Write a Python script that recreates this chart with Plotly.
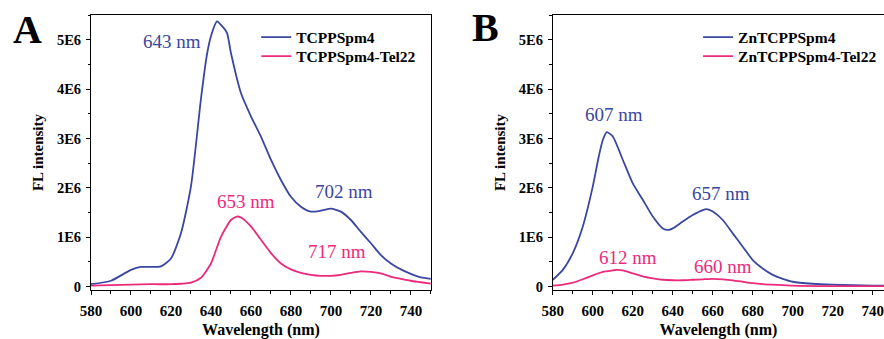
import plotly.graph_objects as go

# ---- data ----
wl_a_blue = [580, 590, 600, 605, 610, 615, 620, 625, 630, 635, 638, 640, 643, 645, 648, 650, 655, 660, 665,
             670, 675, 680, 685, 690, 695, 700, 705, 710, 715, 720, 725, 730, 735, 740, 745, 750]
fl_a_blue = [0.05, 0.12, 0.34, 0.40, 0.40, 0.41, 0.57, 1.08, 2.03, 3.80, 4.70, 5.07, 5.37, 5.30, 5.14, 4.73,
             3.92, 3.45, 3.04, 2.57, 2.16, 1.82, 1.62, 1.52, 1.54, 1.58, 1.52, 1.35, 1.11, 0.88, 0.64, 0.47,
             0.35, 0.26, 0.19, 0.16]
wl_a_pink = [580, 590, 600, 610, 620, 625, 630, 635, 640, 645, 650, 653, 655, 660, 665, 670, 675, 680, 685,
             690, 695, 700, 705, 710, 715, 720, 725, 730, 735, 740, 745, 750]
fl_a_pink = [0.02, 0.03, 0.04, 0.05, 0.05, 0.06, 0.08, 0.18, 0.47, 1.01, 1.35, 1.42, 1.40, 1.22, 0.95, 0.68,
             0.47, 0.35, 0.28, 0.24, 0.22, 0.22, 0.24, 0.28, 0.31, 0.30, 0.27, 0.20, 0.16, 0.12, 0.09, 0.06]

wl_b_blue = [580, 585, 590, 595, 600, 603, 605, 607, 610, 615, 620, 625, 630, 635, 638, 640, 645, 650, 655,
             657, 660, 665, 670, 675, 680, 685, 690, 695, 700, 710, 720, 730, 740, 750]
fl_b_blue = [0.14, 0.34, 0.68, 1.22, 2.03, 2.64, 2.97, 3.13, 3.04, 2.57, 2.09, 1.76, 1.42, 1.18, 1.15, 1.18,
             1.32, 1.45, 1.55, 1.57, 1.52, 1.35, 1.08, 0.81, 0.54, 0.37, 0.24, 0.16, 0.10, 0.06, 0.04, 0.03,
             0.02, 0.02]
wl_b_pink = [580, 585, 590, 595, 600, 605, 610, 612, 615, 620, 625, 630, 635, 640, 645, 650, 655, 660, 665,
             670, 675, 680, 685, 690, 700, 720, 750]
fl_b_pink = [0.02, 0.04, 0.08, 0.15, 0.23, 0.30, 0.33, 0.34, 0.33, 0.27, 0.21, 0.17, 0.14, 0.13, 0.13, 0.14,
             0.15, 0.16, 0.15, 0.13, 0.10, 0.07, 0.05, 0.04, 0.02, 0.01, 0.01]

names_a = ["TCPPSpm4", "TCPPSpm4-Tel22"]
names_b = ["ZnTCPPSpm4", "ZnTCPPSpm4-Tel22"]
peak_labels_a = [("643 nm", 620.6, 4.96, "blue"), ("702 nm", 706.6, 1.92, "blue"),
                 ("653 nm", 657.6, 1.72, "pink"), ("717 nm", 703.2, 0.71, "pink")]
peak_labels_b = [("607 nm", 610.6, 3.48, "blue"), ("657 nm", 664.2, 1.88, "blue"),
                 ("612 nm", 617.7, 0.60, "pink"), ("660 nm", 665.2, 0.40, "pink")]
ytick_vals = [0, 1, 2, 3, 4, 5]
ytick_text = ["0", "1E6", "2E6", "3E6", "4E6", "5E6"]

BLUE = "#3A47A0"
PINK = "#EC2A7C"
COL = {"blue": BLUE, "pink": PINK}
FONT = "Liberation Serif"
W, H = 884, 339
ML, MR, MT, MB = 90.7, 0, 15, 49
PW, PH = W - ML - MR, H - MT - MB


def px(x):
    return (x - ML) / PW


def py(y):
    return (H - MB - y) / PH


fig = go.Figure()
series = [
    (wl_a_blue, fl_a_blue, names_a[0], BLUE, "x", "y", "legend"),
    (wl_a_pink, fl_a_pink, names_a[1], PINK, "x", "y", "legend2"),
    (wl_b_blue, fl_b_blue, names_b[0], BLUE, "x2", "y2", "legend3"),
    (wl_b_pink, fl_b_pink, names_b[1], PINK, "x2", "y2", "legend4"),
]
for xs, ys, nm, col, xa, ya, lg in series:
    fig.add_trace(go.Scatter(x=xs, y=[v * 1e6 for v in ys], mode="lines", name=nm,
                             line=dict(color=col, width=1.8, shape="spline", smoothing=0.6),
                             xaxis=xa, yaxis=ya, legend=lg))

xaxis_common = dict(
    tick0=580, dtick=20, ticks="outside", ticklen=4, tickwidth=1, tickcolor="black",
    minor=dict(dtick=10, ticks="outside", ticklen=2.5, tickwidth=1, tickcolor="black"),
    showline=True, linecolor="black", linewidth=1, showgrid=False, zeroline=False, automargin=False,
    ticklabelstandoff=3,
    tickfont=dict(family=FONT, size=15, color="black", weight="bold"),
    title=dict(text="Wavelength (nm)", font=dict(family=FONT, size=16, color="black", weight="bold"),
               standoff=17),
)
yaxis_common = dict(
    range=[-0.067e6, 5.5e6], tickvals=[v * 1e6 for v in ytick_vals], ticktext=ytick_text,
    ticks="outside", ticklen=4, tickwidth=1, tickcolor="black",
    minor=dict(dtick=0.5e6, tick0=0, ticks="outside", ticklen=2.5, tickwidth=1, tickcolor="black"),
    showline=True, linecolor="black", linewidth=1, showgrid=False, zeroline=False, automargin=False,
    ticklabelstandoff=2,
    tickfont=dict(family=FONT, size=14.5, color="black", weight="bold"),
    title=dict(text="FL intensity", font=dict(family=FONT, size=15, color="black", weight="bold"),
               standoff=9),
)

leg_common = dict(xanchor="left", yanchor="top", bgcolor="rgba(0,0,0,0)", itemwidth=30,
                  font=dict(family=FONT, size=15.5, color="black", weight="bold"))
fig.update_layout(
    width=W, height=H, margin=dict(l=ML, r=MR, t=MT, b=MB, autoexpand=False),
    paper_bgcolor="white", plot_bgcolor="white",
    font=dict(family=FONT),
    xaxis=dict(xaxis_common, domain=[0, px(430.7)], range=[580, 750], anchor="y", mirror=True),
    yaxis=dict(yaxis_common, domain=[0, 1], anchor="x", mirror=True),
    xaxis2=dict(xaxis_common, domain=[px(552.7), 1.0], range=[580, 580 + (W - 552.7) / 2], anchor="y2",
                mirror=True),
    yaxis2=dict(yaxis_common, domain=[0, 1], anchor="x2", mirror=False),
    legend=dict(leg_common, x=px(256), y=py(20.5)),
    legend2=dict(leg_common, x=px(256), y=py(39.5)),
    legend3=dict(leg_common, x=px(698), y=py(20.5)),
    legend4=dict(leg_common, x=px(698), y=py(39.5)),
    showlegend=True,
)

for txt, xv, yv, c in peak_labels_a:
    fig.add_annotation(x=xv, y=yv * 1e6, xref="x", yref="y", text=txt, showarrow=False,
                       xanchor="center", yanchor="middle",
                       font=dict(family=FONT, size=19, color=COL[c]))
for txt, xv, yv, c in peak_labels_b:
    fig.add_annotation(x=xv, y=yv * 1e6, xref="x2", yref="y2", text=txt, showarrow=False,
                       xanchor="center", yanchor="middle",
                       font=dict(family=FONT, size=19, color=COL[c]))

fig.add_annotation(x=px(27), y=py(29.5), xref="paper", yref="paper", text="A", showarrow=False,
                   xanchor="center", yanchor="middle",
                   font=dict(family=FONT, size=40, color="black", weight="bold"))
fig.add_annotation(x=px(485.5), y=py(28), xref="paper", yref="paper", text="B", showarrow=False,
                   xanchor="center", yanchor="middle",
                   font=dict(family=FONT, size=40, color="black", weight="bold"))

fig.write_html("out.html", config={"displayModeBar": False},
               post_script="document.body.style.margin='0';document.body.style.overflow='hidden';")
